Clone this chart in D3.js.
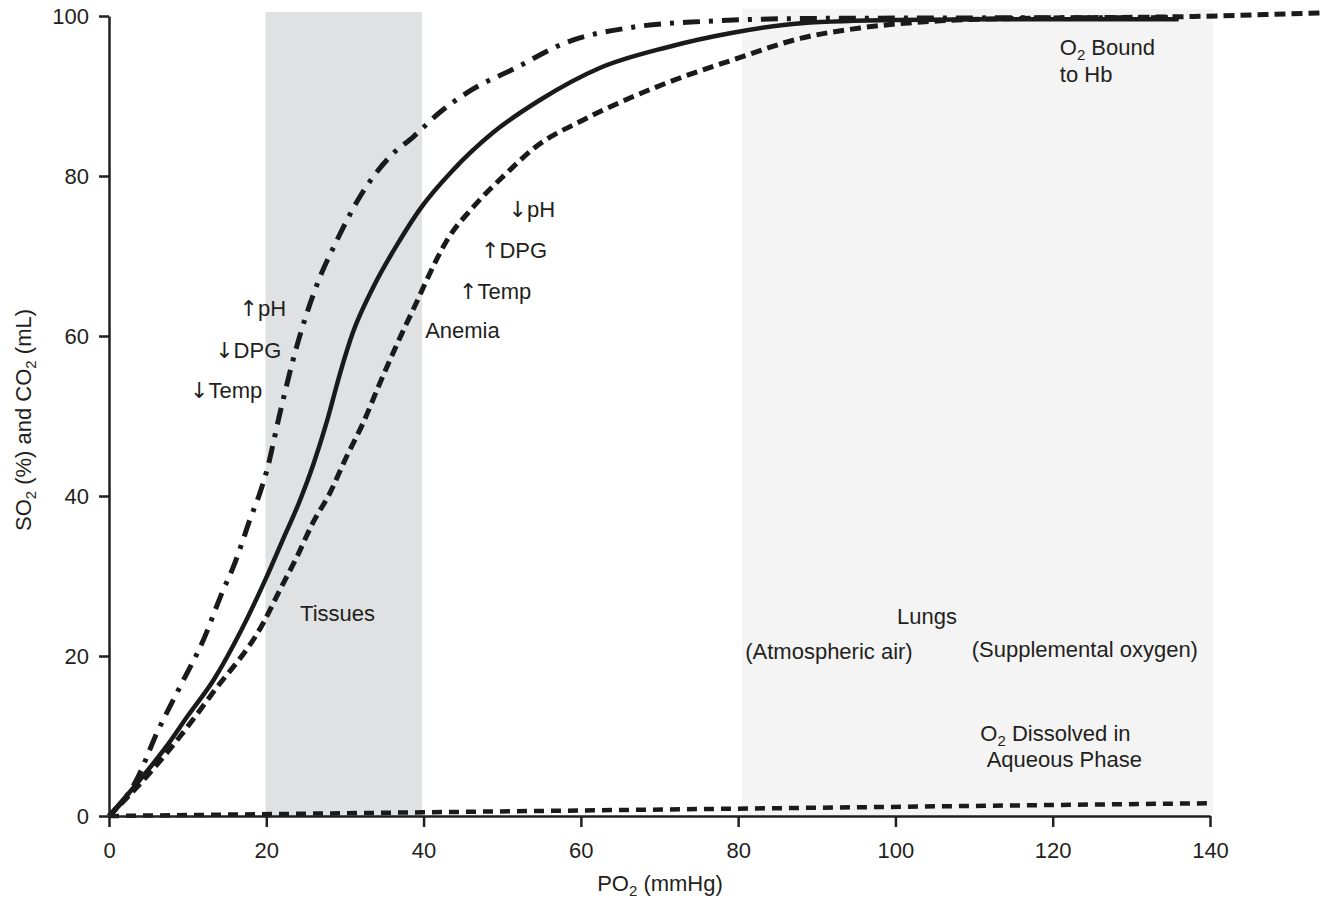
<!DOCTYPE html>
<html>
<head>
<meta charset="utf-8">
<script src="https://cdn.jsdelivr.net/npm/d3@7"></script>
<style>
  body { margin: 0; background: #fff; }
  svg { display: block; }
  text { font-family: "Liberation Sans", Arial, sans-serif; fill: #231f20; }
</style>
</head>
<body>
<div class="canvas"></div>
<script>
// curves (PO2 in mmHg, saturation in %)
const normalPO2 = [0, 3.5, 7.3, 10, 13.3, 16.7, 20, 22, 24.3, 26, 27.7, 29.4, 31, 33.6, 37, 39.5, 43.8, 48.8, 54.8, 62.4, 71, 79.3, 88, 100, 115, 136]
const normalSat = [0, 4, 8.7, 12.5, 17, 23, 29.8, 34.3, 39.5, 44, 49.3, 55.4, 60.4, 66.1, 72, 75.8, 80.8, 85.4, 89.5, 93.5, 96.1, 97.9, 99.1, 99.5, 99.6, 99.6]

const rightPO2 = [0, 5.2, 9, 13.2, 19.6, 21.7, 23.9, 25.9, 28.1, 30.2, 32.3, 34.4, 37, 39.2, 40.4, 43, 46.3, 50.6, 54.2, 60.3, 66.6, 73, 79.3, 87.9, 95.5, 105.7, 115.8, 135.7, 154.5]
const rightSat = [0, 5.4, 9.9, 15.4, 24.1, 28.2, 32.4, 36.6, 40.4, 44.9, 49.1, 54, 59.8, 64.4, 67, 72, 76.1, 80.4, 83.6, 87, 89.9, 92.4, 94.5, 97.2, 98.5, 99.4, 99.7, 99.9, 100.4]

const leftPO2 = [0, 3.5, 6.1, 9, 12, 14.5, 15.8, 16.9, 17.9, 19.2, 20.1, 21.7, 23.9, 26.4, 29, 31.9, 35.7, 38.7, 42, 45.5, 51.9, 57.9, 66.6, 75.2, 90, 136]
const leftSat = [0, 4.5, 10.4, 16.1, 22, 28.2, 31.1, 34.1, 37, 40.4, 43.3, 50.2, 58.8, 66.3, 72, 77.4, 82.4, 84.9, 87.9, 90.4, 93.6, 96.6, 98.6, 99.3, 99.7, 99.8]

const dissolvedPO2 = [0, 40, 80, 140.3]
const dissolvedO2 = [0, 0.46, 0.92, 1.6]

const xTicks = [0, 20, 40, 60, 80, 100, 120, 140]
const yTicks = [0, 20, 40, 60, 80, 100]

// shaded PO2 ranges
const bandNames = ["Tissues", "Lungs"]
const bandFrom = [19.9, 80.5]
const bandTo = [39.8, 140.4]
const bandTop = [100.5, 100.9]
const bandColors = ["#e0e1e3", "#f4f4f4"]

// annotations, placed in data units, {n} is a subscript
const notes = [
  {t: "O{2} Bound", x: 120.9, y: 95.1},
  {t: "to Hb", x: 120.9, y: 91.8},
  {t: "\u2193pH", x: 50.8, y: 74.9},
  {t: "\u2191DPG", x: 47.3, y: 69.8},
  {t: "\u2191Temp", x: 44.5, y: 64.6},
  {t: "Anemia", x: 40.2, y: 59.7},
  {t: "\u2191pH", x: 16.6, y: 62.5},
  {t: "\u2193DPG", x: 13.5, y: 57.3},
  {t: "\u2193Temp", x: 10.3, y: 52.2},
  {t: "Tissues", x: 24.3, y: 24.4},
  {t: "Lungs", x: 100.2, y: 24},
  {t: "(Atmospheric air)", x: 80.9, y: 19.6},
  {t: "(Supplemental oxygen)", x: 109.7, y: 19.9},
  {t: "O{2} Dissolved in", x: 110.8, y: 9.4},
  {t: "Aqueous Phase", x: 111.6, y: 6.1}
]

const width = 1328
const height = 899

const svg = d3.select(".canvas").append("svg")
    .attr("width", width)
    .attr("height", height)

const x = d3.scaleLinear().domain([0, 140]).range([109, 1210])
const y = d3.scaleLinear().domain([0, 100]).range([816, 16])

// writes "O{2} Bound" as text with a subscript tspan, arrows in DejaVu
function subText(sel, str, size) {
    const parts = str.split(/(\{[^}]*\}|[\u2191\u2193])/).filter(p => p.length)
    let down = false
    parts.forEach(p => {
        const isSub = p[0] === "{"
        const ts = sel.append("tspan")
            .text(isSub ? p.slice(1, -1) : p)
            .attr("font-size", isSub ? size * 0.68 : size)
        if (p === "\u2191" || p === "\u2193") ts.attr("font-family", "DejaVu Sans")
        if (isSub && !down) { ts.attr("dy", size * 0.24); down = true }
        else if (!isSub && down) { ts.attr("dy", -size * 0.24); down = false }
    })
}

// bands
svg.selectAll("rect.band")
    .data(bandNames)
    .enter().append("rect")
    .attr("class", "band")
    .attr("x", (d, i) => x(bandFrom[i]))
    .attr("width", (d, i) => x(bandTo[i]) - x(bandFrom[i]))
    .attr("y", (d, i) => y(bandTop[i]))
    .attr("height", (d, i) => y(0) - y(bandTop[i]))
    .attr("fill", (d, i) => bandColors[i])

const line = d3.line()
    .x(d => x(d[0]))
    .y(d => y(d[1]))
    .curve(d3.curveMonotoneX)

const curves = [
    {px: dissolvedPO2, py: dissolvedO2, dash: "10,7", w: 4.5},
    {px: rightPO2, py: rightSat, dash: "11,6", w: 5},
    {px: leftPO2, py: leftSat, dash: "17,9,4,9", w: 5},
    {px: normalPO2, py: normalSat, dash: null, w: 4.5}
]

svg.selectAll("path.curve")
    .data(curves)
    .enter().append("path")
    .attr("class", "curve")
    .attr("d", d => line(d.px.map((v, i) => [v, d.py[i]])))
    .attr("fill", "none")
    .attr("stroke", "#1a1a1a")
    .attr("stroke-width", d => d.w)
    .attr("stroke-dasharray", d => d.dash)

// axes
svg.append("g")
    .attr("transform", `translate(0,${y(0)})`)
    .call(d3.axisBottom(x).tickValues(xTicks).tickSize(11).tickSizeOuter(0).tickPadding(15))

svg.append("g")
    .attr("transform", `translate(${x(0)},0)`)
    .call(d3.axisLeft(y).tickValues(yTicks).tickSize(10).tickSizeOuter(0).tickPadding(10))

svg.selectAll(".domain, .tick line")
    .attr("stroke", "#231f20")
    .attr("stroke-width", 2.5)

svg.selectAll(".tick text")
    .attr("font-size", 22)
    .attr("font-family", "Liberation Sans, Arial, sans-serif")
    .attr("fill", "#231f20")

// axis titles
svg.append("text")
    .attr("x", 660)
    .attr("y", 891)
    .attr("text-anchor", "middle")
    .call(subText, "PO{2} (mmHg)", 22)

svg.append("text")
    .attr("transform", "translate(31,420) rotate(-90)")
    .attr("text-anchor", "middle")
    .call(subText, "SO{2} (%) and CO{2} (mL)", 22)

// notes
svg.selectAll("text.note")
    .data(notes)
    .enter().append("text")
    .attr("class", "note")
    .attr("x", d => x(d.x))
    .attr("y", d => y(d.y))
    .each(function (d) { d3.select(this).call(subText, d.t, 22) })
</script>
</body>
</html>
